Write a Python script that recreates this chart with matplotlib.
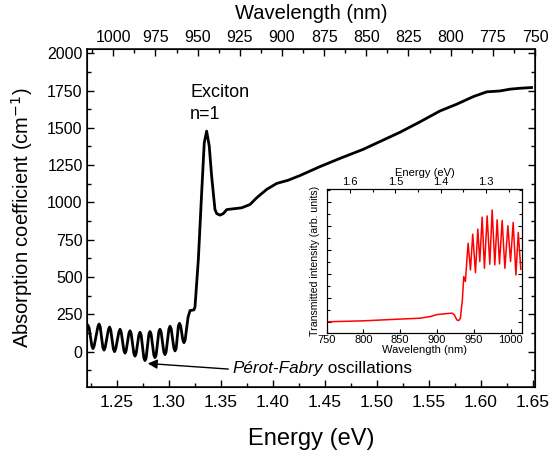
import matplotlib.pyplot as plt
from matplotlib.ticker import MultipleLocator

plt.rcParams['font.family'] = ['Liberation Sans', 'DejaVu Sans']

# main spectrum: energy (eV) vs absorption coefficient (cm^-1)
energy = [1.2224, 1.2235,
          1.2261, 1.2272, 1.2283, 1.2319, 1.2330, 1.2341,
          1.2367, 1.2378, 1.2389, 1.2420, 1.2431, 1.2442,
          1.2468, 1.2479, 1.2490, 1.2521, 1.2532, 1.2543,
          1.2569, 1.2580, 1.2591, 1.2617, 1.2628, 1.2639,
          1.2665, 1.2676, 1.2687, 1.2713, 1.2724, 1.2735,
          1.2761, 1.2772, 1.2783, 1.2809, 1.2820, 1.2831,
          1.2857, 1.2868, 1.2879, 1.2905, 1.2916, 1.2927,
          1.2953, 1.2964, 1.2975, 1.3002, 1.3013, 1.3024,
          1.3050, 1.3061, 1.3072, 1.3093, 1.3104, 1.3115,
          1.3136, 1.3147, 1.3158, 1.3186,
          1.3205, 1.3243, 1.3253,
          1.3285, 1.3317, 1.3342, 1.3365, 1.3390, 1.3413, 1.3445, 1.3462,
          1.3493, 1.3525, 1.3558, 1.3702, 1.3782, 1.3846, 1.3942, 1.4038,
          1.4150, 1.4262, 1.4455, 1.4647, 1.4868, 1.5224, 1.5417, 1.5609,
          1.5769, 1.5929, 1.6058, 1.6186, 1.6282, 1.6378, 1.6490]
absorption = [175, 158,
              38, 20, 38, 167, 185, 167,
              28, 10, 28, 147, 165, 147,
              18, 0, 18, 132, 150, 132,
              8, -10, 8, 122, 140, 122,
              -12, -30, -12, 112, 130, 112,
              -42, -60, -42, 117, 135, 117,
              -22, -40, -22, 132, 150, 132,
              -2, -20, -2, 152, 170, 152,
              23, 5, 23, 172, 190, 172,
              78, 60, 78, 230,
              275, 280, 300,
              616, 1064, 1400, 1478, 1378, 1176, 952, 925,
              915, 925, 952, 964, 986, 1031, 1087, 1127,
              1149, 1180, 1240, 1295, 1355, 1470, 1540, 1613,
              1658, 1709, 1741, 1747, 1759, 1765, 1770]

# inset: transmitted intensity vs wavelength (nm)
wl = [750, 800, 847.7, 877, 891, 900, 909, 920.5, 923.6, 927, 929.5, 931.8,
      934.5, 936.4, 938.6, 942.3, 945.5, 948.6, 952.3, 955.5, 958.2, 961.4,
      964.5, 968.2, 971.8, 975, 978.6, 981.8, 985, 988.6, 992.3, 996.4,
      1000, 1003.6, 1007.3, 1010.5, 1014]
trans = [-0.01, 0.03, 0.10, 0.14, 0.21, 0.29, 0.32, 0.35, 0.28, 0.07, 0.04, 0.14,
         0.90, 1.875, 1.67, 3.26, 2.15, 3.64, 2.04, 3.85, 2.50, 4.35,
         2.22, 4.40, 2.39, 4.65, 2.36, 4.24, 2.40, 4.21, 2.22, 3.99,
         2.50, 4.13, 1.94, 3.71, 2.18]

fig = plt.figure(figsize=(5.52, 4.59), dpi=100)
ax = fig.add_axes([0.1585, 0.1575, 0.8107, 0.7347])
ax.plot(energy, absorption, color='black', lw=2.0, solid_joinstyle='round')
ax.set_xlim(1.2219, 1.6523)
ax.set_ylim(-235, 2025)
ax.xaxis.set_major_locator(MultipleLocator(0.05))
ax.xaxis.set_minor_locator(MultipleLocator(0.025))
ax.yaxis.set_major_locator(MultipleLocator(250))
ax.yaxis.set_minor_locator(MultipleLocator(125))
ax.xaxis.set_major_formatter(plt.FormatStrFormatter('%.2f'))
ax.tick_params(which='both', direction='in', right=True, width=1)
ax.tick_params(which='major', length=5)
ax.tick_params(which='minor', length=3)
ax.tick_params(axis='x', labelsize=12.5, pad=6)
ax.tick_params(axis='y', labelsize=11.5)
ax.set_xlabel('Energy (eV)', fontsize=17, labelpad=13)
ax.set_ylabel('Absorption coefficient (cm$^{-1}$)', fontsize=14.5, labelpad=9)
for s in ax.spines.values():
    s.set_linewidth(1.1)

top = ax.twiny()
top.set_xlim(1015.3, 750)
top.xaxis.set_major_locator(MultipleLocator(25))
top.xaxis.set_minor_locator(MultipleLocator(12.5))
top.tick_params(which='both', direction='in', labelsize=11.5, width=1)
top.tick_params(which='major', length=5)
top.tick_params(which='minor', length=3)
top.set_xlabel('Wavelength (nm)', fontsize=14.5, labelpad=8)

ax.text(1.3205, 1738, 'Exciton', fontsize=13, va='center', ha='left')
ax.text(1.3205, 1590, 'n=1', fontsize=13, va='center', ha='left')
ax.annotate('', xy=(1.2772, -78), xytext=(1.3600, -118),
            arrowprops=dict(arrowstyle='-|>', color='black', lw=1,
                            mutation_scale=14))
t1 = ax.text(1.3618, -112, 'Pérot-Fabry', fontsize=12.3, style='italic',
             va='center', ha='left')
ax.annotate(' oscillations', xy=(1, 0.5), xycoords=t1, fontsize=12.3,
            va='center', ha='left')

# inset
ins = fig.add_axes([0.5918, 0.2738, 0.3544, 0.3138])
ins.plot(wl, trans, color='red', lw=1.1)
ins.set_xlim(750, 1016)
ins.set_ylim(-0.49, 5.51)
ins.xaxis.set_major_locator(MultipleLocator(50))
ins.yaxis.set_major_locator(MultipleLocator(1))
ins.yaxis.set_minor_locator(MultipleLocator(0.5))
ins.tick_params(which='both', direction='in', right=True, labelsize=8,
                pad=1.5, width=0.8)
ins.tick_params(which='major', length=3)
ins.tick_params(which='minor', length=2)
ins.set_yticklabels([])
ins.set_xlabel('Wavelength (nm)', fontsize=8, labelpad=0)
ins.set_ylabel('Transmitted intensity (arb. units)', fontsize=7.6, labelpad=3)
for s in ins.spines.values():
    s.set_linewidth(0.8)

itop = ins.twiny()
itop.set_xlim(1.6514, 1.22)
itop.xaxis.set_major_locator(MultipleLocator(0.1))
itop.xaxis.set_minor_locator(MultipleLocator(0.05))
itop.xaxis.set_major_formatter(plt.FormatStrFormatter('%.1f'))
itop.tick_params(which='both', direction='in', labelsize=8, pad=1.5, width=0.8)
itop.tick_params(which='major', length=3)
itop.tick_params(which='minor', length=2)
itop.set_xlabel('Energy (eV)', fontsize=8, labelpad=1)

fig.savefig('out.png', dpi=100)
